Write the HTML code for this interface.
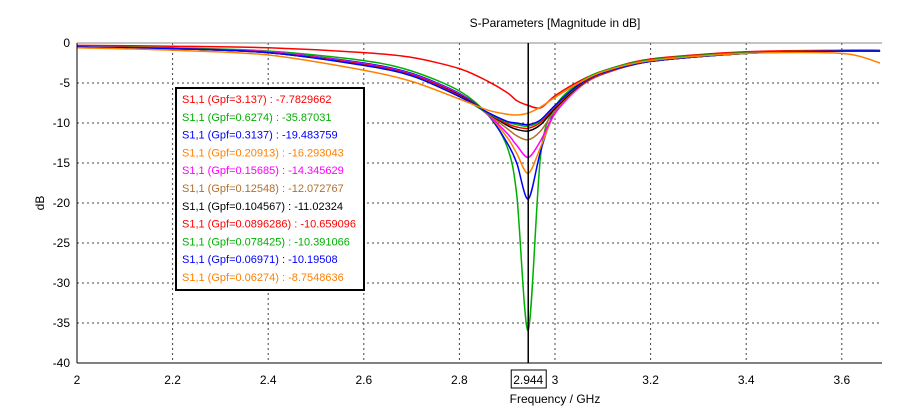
<!DOCTYPE html>
<html><head><meta charset="utf-8"><style>
body{margin:0;background:#fff;}
svg{display:block;font-family:"Liberation Sans",sans-serif;}
</style></head><body>
<svg id="chart" width="908" height="415">
<text x="555" y="27" font-size="12" text-anchor="middle" fill="#000">S-Parameters [Magnitude in dB]</text>
<g id="grid"></g><g id="series"></g><g id="axes"></g><g id="legend"></g>
</svg>
<script>
const freqs=[2,2.2,2.4,2.6,2.7,2.8,2.86,2.9,2.92,2.944,2.97,3.0,3.05,3.1,3.2,3.4,3.6,3.68];
const names=["S1,1 (Gpf=3.137) : -7.7829662","S1,1 (Gpf=0.6274) : -35.87031","S1,1 (Gpf=0.3137) : -19.483759","S1,1 (Gpf=0.20913) : -16.293043","S1,1 (Gpf=0.15685) : -14.345629","S1,1 (Gpf=0.12548) : -12.072767","S1,1 (Gpf=0.104567) : -11.02324","S1,1 (Gpf=0.0896286) : -10.659096","S1,1 (Gpf=0.078425) : -10.391066","S1,1 (Gpf=0.06971) : -10.19508","S1,1 (Gpf=0.06274) : -8.7548636"];
const colors=["#ff0000","#00b000","#0000ff","#ff8000","#ff00ff","#b07030","#000000","#ff0000","#00b000","#0000ff","#ff8000"];
const s0=[-0.3,-0.4,-0.6,-1.2,-1.8,-3.2,-4.8,-6.2,-7.2,-7.8,-8.1,-6.6,-4.8,-3.5,-2.0,-1.1,-0.9,-0.9];
const s1=[-0.5,-0.6,-1.0,-2.2,-3.5,-6.0,-9,-13,-19,-35.9,-14,-8,-5,-3.5,-2.1,-1.2,-1.0,-0.9];
const s2=[-0.5,-0.7,-1.1,-2.5,-3.8,-6.3,-9,-12.5,-15,-19.5,-13.5,-8.5,-5.5,-3.8,-2.3,-1.3,-1.0,-1.0];
const s3=[-0.5,-0.7,-1.1,-2.6,-3.9,-6.4,-9,-11.8,-13.8,-16.3,-13,-8.8,-5.6,-3.9,-2.3,-1.3,-1.0,-1.0];
const s4=[-0.5,-0.7,-1.1,-2.6,-3.9,-6.4,-9,-11.3,-12.8,-14.3,-12.2,-8.8,-5.6,-3.9,-2.3,-1.3,-1.0,-1.0];
const s5=[-0.5,-0.7,-1.2,-2.7,-4.0,-6.5,-8.9,-10.7,-11.6,-12.1,-11.0,-8.5,-5.5,-3.9,-2.3,-1.3,-1.0,-1.0];
const s6=[-0.5,-0.7,-1.2,-2.7,-4.0,-6.5,-8.8,-10.3,-10.8,-11.0,-10.2,-8.2,-5.4,-3.8,-2.3,-1.3,-1.0,-1.0];
const s7=[-0.5,-0.7,-1.2,-2.7,-4.0,-6.6,-8.8,-10.1,-10.5,-10.66,-9.9,-8.0,-5.3,-3.8,-2.3,-1.3,-1.0,-1.0];
const s8=[-0.5,-0.7,-1.2,-2.8,-4.1,-6.7,-8.8,-9.9,-10.2,-10.39,-9.7,-7.9,-5.2,-3.7,-2.3,-1.3,-1.0,-1.0];
const s9=[-0.5,-0.7,-1.2,-2.8,-4.1,-6.7,-8.7,-9.8,-10.0,-10.2,-9.6,-7.8,-5.2,-3.7,-2.3,-1.3,-1.0,-1.0];
const s10=[-0.6,-0.9,-1.5,-3.4,-4.8,-7.0,-8.4,-8.9,-9.0,-8.75,-8.0,-6.8,-5.0,-3.6,-2.2,-1.3,-1.3,-2.5];
const seriesData=[s0,s1,s2,s3,s4,s5,s6,s7,s8,s9,s10];
const xTicks=[2,2.2,2.4,2.6,2.8,3,3.2,3.4,3.6];
const yTicks=[0,-5,-10,-15,-20,-25,-30,-35,-40];
const cursorF=2.944;
const X0=77,X1=882,Y0=43,Y1=363;
const xs=f=>X0+(f-2)*478;
const ys=v=>Y0+(0-v)*(Y1-Y0)/40;
const NS="http://www.w3.org/2000/svg";
function mk(t,a,p){const e=document.createElementNS(NS,t);for(const k in a)e.setAttribute(k,a[k]);p.appendChild(e);return e;}
const grid=document.getElementById('grid'),axes=document.getElementById('axes'),ser=document.getElementById('series'),leg=document.getElementById('legend');
yTicks.forEach(v=>{
 if(v!==0&&v!==-40){const l=mk('line',{x1:X0,x2:X1,y1:ys(v),y2:ys(v),stroke:'#444','stroke-dasharray':'2,3'},grid);
 
 }
 const t=mk('text',{x:X0-7,y:ys(v)+4,'font-size':12,'text-anchor':'end'},axes);t.textContent=v;
 
 
});
xTicks.forEach(f=>{
 if(f!==2){const l=mk('line',{x1:xs(f),x2:xs(f),y1:Y0,y2:Y1,stroke:'#444','stroke-dasharray':'2,3'},grid);
 
 }
 const t=mk('text',{x:xs(f),y:Y1+21,'font-size':12,'text-anchor':'middle'},axes);t.textContent=f;
 
 
});
mk('line',{x1:X0,x2:X1,y1:Y0,y2:Y0,stroke:'#888'},axes);
mk('line',{x1:X0,x2:X0,y1:Y0,y2:Y1,stroke:'#000'},axes);
mk('line',{x1:X0,x2:X1,y1:Y1,y2:Y1,stroke:'#000'},axes);
function path(vals){
 const p=vals.map((v,i)=>[xs(freqs[i]),ys(v)]);
 let d=`M${p[0][0]},${p[0][1]}`;
 for(let i=0;i<p.length-1;i++){
  const a=p[Math.max(i-1,0)],b=p[i],c=p[i+1],e=p[Math.min(i+2,p.length-1)];
  const t=0.15;
  const c1=[b[0]+(c[0]-a[0])*t,b[1]+(c[1]-a[1])*t],c2=[c[0]-(e[0]-b[0])*t,c[1]-(e[1]-b[1])*t];
  d+=` C${c1[0]},${c1[1]} ${c2[0]},${c2[1]} ${c[0]},${c[1]}`;
 }
 return d;
}
seriesData.forEach((s,i)=>{
 const p=mk('path',{d:path(s),fill:'none',stroke:colors[i],'stroke-width':1.5},ser);
 
 
});
const cx=xs(cursorF);
const cl=mk('line',{x1:cx,x2:cx,y1:Y0,y2:Y1,stroke:'#000','stroke-width':1.5},axes);


mk('rect',{x:cx-17,y:Y1+7,width:35,height:18,fill:'#fff',stroke:'#000'},axes);
const ct=mk('text',{x:cx,y:Y1+21,'font-size':12,'text-anchor':'middle'},axes);ct.textContent=cursorF;


const xt=mk('text',{x:555,y:403,'font-size':12,'text-anchor':'middle'},axes);xt.textContent='Frequency / GHz';


const yt=mk('text',{x:44,y:203,'font-size':12,'text-anchor':'middle',transform:'rotate(-90 44 203)'},axes);yt.textContent='dB';


const lb=mk('rect',{x:176,y:88,width:188,height:202,fill:'#fff',stroke:'#000','stroke-width':2},leg);


names.forEach((n,i)=>{
 const t=mk('text',{x:182,y:103+i*17.8,'font-size':11,fill:colors[i]},leg);t.textContent=n;
 
 
});
</script>
</body></html>
